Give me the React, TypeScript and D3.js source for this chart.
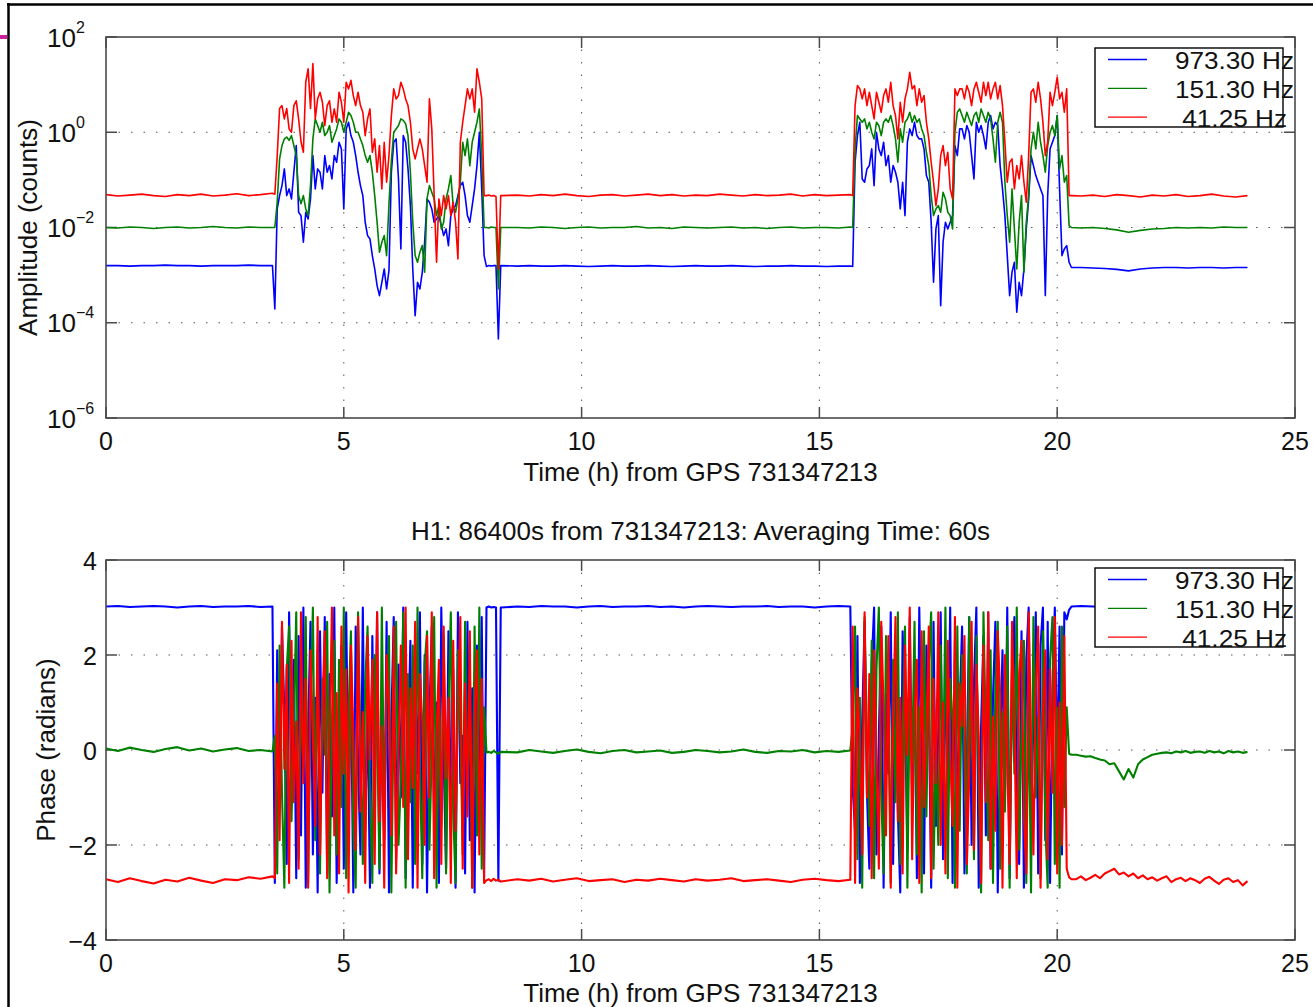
import * as d3 from 'd3';

// sampling grid of the stored values (hours from GPS 731347213)
const FLAT_STEP = 0.25;   // quiet stretches
const ACTIVE_STEP = 0.05; // lock-loss / noisy stretches
const FINE_STEP = 0.1;    // phase tail after 20.3 h
const T_PRE = 0;
const T_A = 3.55;
const T_MID = 8.65;
const T_B = 15.7;
const T_POST = 20.5;
const T_POST_FINE = 20.4;

const xTicks = [0, 5, 10, 15, 20, 25];
const ampTickExps = [2, 0, -2, -4, -6];
const phaseTicks = [4, 2, 0, -2, -4];
const legendLabels = ['973.30 Hz', '151.30 Hz', ' 41.25 Hz'];

// ---- amplitude, log10(counts) ----
const ampBluePre = [-2.80, -2.80, -2.81, -2.80, -2.80, -2.79, -2.80, -2.80, -2.81, -2.80, -2.80, -2.80, -2.79, -2.80, -2.80];
const ampBlueA = [
  -3.71, -1.61, -1.33, -1.12, -0.77, -1.33, -1.19, -1.4, -0.84, -0.28,
  -1.68, -1.75, -2.31, -1.68, -1.82, -1.4, -0.49, -1.19, -0.77, -0.84,
  -1.19, -0.49, -0.84, -0.7, -0.98, -0.49, -0.63, -0.21, -0.35, -1.61,
  0.07, 0.21, -0.07, -0.21, -0.49, -0.84, -1.12, -1.33, -1.89, -2.17,
  -2.24, -2.59, -2.87, -3.22, -3.43, -3.15, -2.87, -3.29, -2.9, -0.84,
  -0.21, -0.14, -0.98, -2.45, -0.07, -0.21, -0.77, -1.54, -2.87, -3.85,
  -3.15, -3.29, -2.94, -2.31, -1.4, -1.47, -1.61, -1.89, -1.82, -1.75,
  -1.96, -2.17, -2.03, -2.38, -1.75, -1.61, -1.54, -1.33, -1.12, -1.05,
  -1.33, -1.75, -1.89, -1.54, -1.19, -0.7, 0.0, -1.19, -2.59, -2.82,
  -2.8, -2.81, -2.8, -2.8, -4.34, -2.8,
];
const ampBlueMid = [-2.81, -2.80, -2.81, -2.81, -2.80, -2.81, -2.82, -2.81, -2.80, -2.81, -2.81, -2.80, -2.81, -2.82, -2.81, -2.80, -2.81, -2.81, -2.80, -2.81, -2.82, -2.81, -2.81, -2.80, -2.81, -2.81, -2.82, -2.81, -2.81];
const ampBlueB = [
  -2.82, -0.63, -0.07, 0.21, -0.98, -1.05, -0.77, -0.7, -0.35, -1.12,
  0.0, -0.35, -0.49, -0.21, -0.7, -0.49, -1.05, -0.7, -0.84, -1.05,
  -1.61, -1.05, -1.75, -0.21, 0.07, -0.07, 0.21, -0.07, -0.14, -0.14,
  -0.35, -0.91, -1.05, -1.89, -3.15, -2.03, -1.75, -3.64, -2.31, -1.89,
  -2.03, -1.89, -1.75, -0.28, -0.49, 0.07, 0.07, -0.14, 0.14, 0.0,
  -0.49, -0.98, 0.21, 0.0, 0.14, -0.07, -0.35, 0.21, 0.35, 0.07,
  0.21, 0.14, -0.7, -1.19, -1.75, -2.59, -3.43, -2.94, -2.73, -3.78,
  -3.15, -3.43, -2.87, -2.03, -1.4, -0.49, -0.7, -0.91, -1.05, -1.19,
  -1.33, -3.43, -1.33, -0.35, -0.21, -0.07, 0.35, -1.19, -2.59, -2.45,
  -2.38, -2.73, -2.84,
];
const ampBluePost = [-2.84, -2.85, -2.86, -2.88, -2.91, -2.87, -2.85, -2.84, -2.84, -2.85, -2.84, -2.84, -2.85, -2.84, -2.84];

const ampGreenPre = [-2.0, -2.01, -1.99, -2.0, -2.02, -2.0, -1.99, -2.01, -2.0, -1.98, -2.0, -2.01, -1.99, -2.0, -2.0];
const ampGreenA = [
  -2.0, -1.47, -0.56, -0.28, -0.14, -0.1, -0.17, -0.07, -0.28, -0.49,
  -1.33, -1.5, -1.33, -1.61, -1.75, -1.12, -0.14, 0.28, 0.14, 0.0,
  0.21, -0.07, 0.0, 0.14, -0.21, -0.07, 0.07, 0.28, 0.21, 0.0,
  0.21, 0.42, 0.35, 0.21, 0.0, 0.0, -0.14, -0.28, -0.49, -0.63,
  -0.49, -0.84, -1.33, -1.89, -2.52, -2.31, -2.17, -2.59, -1.5, -0.6,
  0.0, 0.07, 0.14, 0.28, 0.25, 0.18, -0.07, -0.84, -1.89, -2.59,
  -2.73, -2.52, -2.38, -2.94, -1.4, -1.12, -1.26, -1.4, -1.75, -1.54,
  -2.03, -1.89, -1.4, -1.19, -0.91, -1.54, -1.68, -1.4, -1.05, -0.21,
  -0.49, -0.14, -0.7, -0.21, 0.0, 0.21, 0.49, -0.49, -2.0, -2.0,
  -2.01, -1.99, -2.0, -2.0, -3.29, -2.0,
];
const ampGreenMid = [-2.0, -2.01, -1.99, -2.0, -2.02, -2.0, -1.99, -2.01, -2.0, -2.0, -1.98, -2.01, -2.0, -2.02, -1.99, -2.0, -2.01, -2.0, -1.99, -2.01, -2.0, -2.02, -2.0, -1.99, -2.01, -2.0, -2.0, -2.01, -1.99];
const ampGreenB = [
  -2.0, -0.35, 0.35, 0.28, 0.21, 0.28, 0.07, 0.21, 0.0, -0.14,
  0.21, 0.14, -0.07, 0.21, 0.28, 0.21, 0.35, 0.14, -0.14, -0.63,
  0.07, -0.21, 0.21, 0.28, 0.42, 0.21, 0.35, 0.21, 0.28, 0.07,
  -0.07, -0.42, -0.7, -1.33, -1.75, -1.61, -1.54, -1.68, -1.26, -1.4,
  -1.68, -1.75, -2.03, 0.0, 0.42, 0.49, 0.35, 0.21, 0.42, 0.28,
  0.14, 0.35, 0.42, 0.21, 0.49, 0.35, 0.21, 0.42, 0.28, -0.14,
  -0.63, 0.21, 0.42, 0.21, -1.05, -1.75, -2.31, -1.19, -2.03, -2.87,
  -1.89, -1.33, -2.94, -1.89, -1.33, -0.35, 0.0, -0.35, 0.21, -0.21,
  -0.49, -0.84, -0.28, 0.0, 0.14, -0.07, 0.35, -0.77, -0.49, -1.05,
  -0.91, -1.96, -2.0,
];
const ampGreenPost = [-2.01, -2.0, -2.02, -2.05, -2.1, -2.06, -2.03, -2.02, -2.0, -2.01, -2.0, -2.01, -1.99, -2.0, -2.0];

const ampRedPre = [-1.31, -1.34, -1.32, -1.30, -1.33, -1.35, -1.31, -1.33, -1.30, -1.34, -1.32, -1.29, -1.33, -1.31, -1.28];
const ampRedA = [
  -1.3, -0.5, 0.5, 0.56, 0.28, 0.5, 0.07, 0.0, 0.56, 0.66,
  0.28, -0.2, -0.42, 1.05, 1.33, 0.5, 1.44, 0.28, 0.7, 0.84,
  0.63, 0.14, 0.56, 0.66, 0.21, 0.49, 0.21, 0.84, 0.63, 0.21,
  1.05, 0.91, 1.09, 0.77, 0.56, 0.84, 0.56, 0.42, -0.07, 0.28,
  0.49, -0.42, -0.14, -0.84, -0.28, -1.19, -0.21, -1.05, -0.49, 0.35,
  0.91, 0.7, 0.77, 1.05, 0.91, 0.7, 0.56, 0.21, -0.35, -0.56,
  -0.35, -0.14, -0.35, -0.7, -1.05, 0.7, 0.07, -1.33, -2.73, -1.4,
  -1.75, -1.33, -1.61, -1.33, -1.75, -1.47, -1.89, -2.66, -0.21, 0.21,
  0.56, 0.91, 0.7, 0.91, 0.42, 1.33, 1.05, 0.7, -1.33, -1.33,
  -1.32, -1.34, -1.33, -1.35, -2.87, -1.33,
];
const ampRedMid = [-1.32, -1.34, -1.31, -1.33, -1.30, -1.33, -1.35, -1.32, -1.31, -1.34, -1.32, -1.30, -1.33, -1.31, -1.34, -1.32, -1.33, -1.30, -1.32, -1.34, -1.31, -1.33, -1.32, -1.30, -1.34, -1.31, -1.33, -1.32, -1.31];
const ampRedB = [
  -1.33, 0.56, 0.98, 0.91, 0.7, 0.91, 0.56, 0.84, 0.56, 0.28,
  0.84, 0.63, 0.42, 0.77, 0.91, 0.63, 1.05, 0.56, 0.35, -0.14,
  0.63, 0.21, 0.7, 0.91, 1.26, 0.91, 0.98, 0.56, 0.91, 0.63,
  0.77, 0.21, -0.14, -0.63, -1.05, -1.54, -1.19, -0.49, -0.28, -0.7,
  -0.42, -1.19, -1.4, 0.91, 0.77, 0.91, 0.91, 0.7, 0.98, 0.84,
  0.56, 0.91, 1.05, 0.84, 0.63, 1.05, 0.77, 1.05, 0.7, 0.91,
  1.05, 0.7, 0.98, 0.56, -0.21, -1.05, -0.63, -0.56, -1.19, -0.7,
  -0.98, -0.49, -1.05, -1.47, -0.49, 0.84, 0.91, 0.63, 1.05, 0.7,
  0.21, -0.49, -0.21, 0.84, 0.56, 0.84, 1.16, 0.7, 0.84, 0.42,
  0.91, -1.33, -1.33,
];
const ampRedPost = [-1.34, -1.32, -1.35, -1.31, -1.33, -1.36, -1.32, -1.34, -1.31, -1.35, -1.33, -1.30, -1.34, -1.36, -1.33];

// ---- phase, radians ----
const phBluePre = [3.02, 3.03, 3.01, 3.02, 3.03, 3.02, 3.0, 3.02, 3.03, 3.01, 3.02, 3.02, 3.03, 3.01, 3.02];
const phBlueA = [
  -2.8, 2.1, -1.2, 2.6, 0.8, -2.4, 2.9, -0.6, 1.9, -2.7,
  2.4, -1.8, 3.0, -2.9, 0.4, 2.7, -2.2, 1.1, -3.0, 2.5,
  -0.9, 2.8, -2.6, 1.6, -1.4, 3.0, -2.8, 0.2, 2.2, -2.5,
  2.9, -1.1, 1.4, -3.0, 2.6, -0.3, -2.2, 3.0, -1.7, 0.9,
  -2.9, 2.4, -0.8, 2.9, -2.6, 1.2, -1.9, 2.7, -3.0, 0.6,
  2.8, -2.3, 1.8, -1.0, 3.0, -2.7, 0.1, 2.3, -2.9, 1.5,
  -0.5, 2.9, -2.4, 2.0, -3.0, 0.7, 2.6, -1.6, 1.0, -2.8,
  3.0, -0.2, -2.5, 2.5, -1.3, 1.7, -2.9, 2.9, -0.7, 0.3,
  -2.6, 2.7, -1.9, 1.3, -3.0, 2.2, -0.4, 2.8, -2.7, 3.0,
  3.02, 3.0, 3.01, 3.0, -2.75, 3.0,
];
const phBlueMid = [3.02, 3.01, 3.03, 3.02, 3.02, 3.0, 3.02, 3.03, 3.01, 3.02, 3.02, 3.03, 3.01, 3.02, 3.0, 3.02, 3.03, 3.02, 3.01, 3.02, 3.02, 3.03, 3.01, 3.02, 3.02, 3.0, 3.02, 3.03, 3.02];
const phBlueB = [
  -0.8, -1.7, 2.4, -2.8, 0.6, 2.7, -0.9, -2.5, 1.8, 3.0,
  -2.2, 0.3, 2.6, -2.9, 1.2, -0.5, 2.9, -2.4, 2.0, -1.3,
  -3.0, 2.5, 0.8, -2.1, 2.8, -1.0, 1.5, -2.7, 3.0, -0.2,
  -2.6, 2.2, 1.0, -2.9, 2.7, -1.6, 0.4, 2.9, -2.3, 1.7,
  -0.8, 3.0, -2.8, 2.3, -1.4, 0.9, 2.6, -2.6, -0.3, 2.8,
  -2.0, 1.4, 3.0, -2.9, 0.5, 2.4, -1.8, 2.9, -2.5, 1.1,
  2.7, -3.0, 0.0, 2.1, -1.2, 3.0, -2.7, 1.6, 2.8, -0.7,
  -2.4, 2.5, -2.9, 1.9, 3.0, -1.5, 0.6, 2.9, -2.6, 2.2,
  3.0, -1.9, 2.7, -2.8, 1.3, 3.0, -0.4, 2.6, -2.2, 2.9,
  2.75, 2.95, 3.02,
];
const phBluePost = [3.03, 3.02, 3.02, 3.01, 3.03, 3.02, 3.02, 3.01, 3.02, 3.03, 3.02, 3.01, 3.02, 3.02, 3.03];

const phGreenPre = [0.03, -0.02, 0.05, 0.0, -0.04, 0.02, 0.06, -0.01, 0.03, -0.03, 0.01, 0.04, -0.02, 0.0, -0.03];
const phGreenA = [
  0.3, -2.6, 2.2, -0.9, -2.9, 1.7, 2.6, -1.5, 0.5, 2.9,
  -2.3, 1.2, -0.4, 2.8, -2.8, 0.9, 3.0, -1.9, 2.1, -2.6,
  1.5, -0.1, 2.7, -3.0, 0.6, 2.3, -2.2, 1.9, -1.2, 3.0,
  -2.7, 0.8, 2.5, -1.7, -2.9, 2.9, 0.2, -2.4, 1.4, 2.6,
  -1.0, -2.8, 2.0, 0.4, -2.5, 3.0, -1.4, 1.0, 2.4, -3.0,
  0.9, 2.7, -2.0, -0.6, 2.9, -2.9, 1.6, -1.1, 2.2, -2.4,
  3.0, -0.3, -2.7, 1.8, 2.5, -2.1, 0.0, 2.8, -2.9, 1.3,
  -1.6, 2.4, -2.6, 0.7, 2.9, -1.3, -2.8, 2.1, 0.5, -2.2,
  2.7, -0.8, 1.1, -2.9, 2.6, -1.8, 3.0, -2.5, 0.9, -0.05,
  -0.04, -0.06, -0.02, -0.05, -0.08, -0.04,
];
const phGreenMid = [-0.05, 0.0, -0.03, -0.06, -0.02, 0.01, -0.04, -0.07, -0.02, 0.0, -0.05, -0.03, -0.01, -0.06, -0.04, 0.0, -0.02, -0.05, -0.03, 0.01, -0.04, -0.06, -0.02, -0.03, 0.0, -0.05, -0.02, -0.04, -0.01];
const phGreenB = [
  0.5, 2.6, -2.3, 1.1, -2.9, 2.8, 0.2, -1.6, 2.3, -2.7,
  1.7, 3.0, -0.9, -2.6, 2.4, 0.7, -2.8, 1.9, -1.1, 2.9,
  -2.4, 0.4, 2.6, -2.9, 1.3, -0.3, 2.7, -2.2, 0.9, -3.0,
  2.5, -1.4, 1.8, 2.9, -2.5, 0.1, -2.0, 2.2, -0.6, 3.0,
  -2.7, 1.5, 0.6, -2.9, 2.6, -1.7, 2.0, -0.2, -2.6, 2.8,
  1.0, -2.3, 2.4, -0.8, -3.0, 2.9, 0.3, -1.9, 2.1, -2.8,
  1.4, 2.7, -2.5, 0.8, -1.3, 2.6, -2.9, 1.7, -0.5, 3.0,
  -2.1, 0.5, 2.3, -2.8, 1.2, -3.0, 2.8, -1.0, 0.7, -2.7,
  2.5, -1.6, -2.9, 1.9, 2.8, -2.4, 0.9, -2.9, 2.6, -1.2,
  0.9, -0.08, -0.1,
];
const phGreenPost = [
  -0.1, -0.12, -0.14, -0.13, -0.17, -0.2, -0.22,
  -0.3, -0.28, -0.45, -0.62, -0.4, -0.58, -0.3, -0.2, -0.15, -0.1,
  -0.08, -0.06, -0.05, -0.07, -0.03, -0.05, -0.02, -0.06, -0.04, -0.03,
  -0.06, -0.02, -0.05, -0.03, -0.07, -0.02, -0.05, -0.03, -0.06, -0.04,
];

const phRedPre = [-2.72, -2.78, -2.7, -2.76, -2.81, -2.73, -2.77, -2.69, -2.75, -2.8, -2.72, -2.74, -2.68, -2.71, -2.66];
const phRedA = [
  -2.7, 1.4, -1.9, 2.7, -0.4, 1.8, -2.8, 2.3, -1.1, 0.6,
  -2.5, 2.9, -0.7, 1.5, -2.9, 2.1, 0.3, -1.6, 2.8, -2.2,
  0.9, 2.5, -2.7, 0.1, 3.0, -1.8, 1.2, -2.6, 2.6, -0.5,
  1.7, -3.0, 2.2, 0.4, -2.1, 2.8, -1.3, 0.8, -2.8, 2.4,
  -0.2, 1.9, -2.4, 2.9, -1.5, 0.5, -2.9, 2.0, 1.0, -1.8,
  2.6, -2.6, 0.0, 2.2, -1.2, 3.0, -2.3, 1.3, -0.8, 2.7,
  -2.9, 1.6, 0.6, -2.0, 2.4, -1.0, 2.9, -2.7, 0.3, 1.9,
  -2.4, 2.6, -0.6, 1.1, -2.8, 2.3, -1.7, 0.9, 2.8, -2.5,
  1.4, -1.4, 2.5, -2.9, 0.7, 2.1, -2.2, 1.5, -2.8, -2.74,
  -2.72, -2.76, -2.71, -2.75, -2.73, -2.77,
];
const phRedMid = [-2.72, -2.75, -2.71, -2.77, -2.73, -2.7, -2.76, -2.74, -2.72, -2.78, -2.73, -2.75, -2.71, -2.74, -2.77, -2.72, -2.75, -2.73, -2.7, -2.76, -2.74, -2.72, -2.75, -2.78, -2.73, -2.71, -2.74, -2.76, -2.73];
const phRedB = [
  2.6, -2.8, 1.3, 0.2, -2.2, 2.9, -1.0, 1.6, -2.7, 2.1,
  -0.4, -2.5, 2.7, 0.9, -1.8, 2.4, -2.9, 0.6, 2.8, -1.5,
  1.1, -2.6, 2.2, -0.1, 3.0, -2.3, 0.8, 1.9, -2.8, 2.5,
  -1.2, 0.4, 2.6, -2.7, 1.5, -0.7, 2.9, -2.0, 1.0, -2.6,
  2.3, 0.0, -1.6, 2.8, -2.9, 1.4, 0.5, 2.4, -2.4, -0.6,
  2.7, -2.1, 1.8, 0.3, -2.8, 2.2, -1.1, 2.9, -2.5, 0.7,
  -1.7, 2.5, 1.2, -2.9, 2.0, -0.3, -2.4, 2.7, 0.6, -2.7,
  1.6, 2.3, -1.4, -2.6, 2.9, 0.2, -2.2, 1.3, 2.6, -2.9,
  0.8, 2.1, -2.3, 1.7, -0.9, 2.8, -2.6, 1.0, -2.0, 2.4,
  -2.5, -2.68, -2.72,
];
const phRedPost = [
  -2.72, -2.66, -2.74, -2.69, -2.63, -2.70, -2.6, -2.55, -2.5, -2.62,
  -2.58, -2.66, -2.6, -2.7, -2.64, -2.72, -2.68, -2.75, -2.7, -2.66,
  -2.78, -2.72, -2.69, -2.76, -2.7, -2.74, -2.8, -2.71, -2.67, -2.75,
  -2.82, -2.73, -2.7, -2.78, -2.74, -2.85, -2.76,
];

type Pt = [number, number];
const onGrid = (vals: number[], t0: number, step: number): Pt[] =>
  vals.map((v, i) => [t0 + i * step, v] as Pt);

const ampSeries = [
  [ampBluePre, ampBlueA, ampBlueMid, ampBlueB, ampBluePost],
  [ampGreenPre, ampGreenA, ampGreenMid, ampGreenB, ampGreenPost],
  [ampRedPre, ampRedA, ampRedMid, ampRedB, ampRedPost],
].map(([pre, a, mid, b, post]) =>
  [
    ...onGrid(pre, T_PRE, FLAT_STEP),
    ...onGrid(a, T_A, ACTIVE_STEP),
    ...onGrid(mid, T_MID, FLAT_STEP),
    ...onGrid(b, T_B, ACTIVE_STEP),
    ...onGrid(post, T_POST, FLAT_STEP),
  ].map(([t, e]) => [t, Math.pow(10, e)] as Pt)
);

const phSeries = [
  [...onGrid(phBluePre, T_PRE, FLAT_STEP), ...onGrid(phBlueA, T_A, ACTIVE_STEP), ...onGrid(phBlueMid, T_MID, FLAT_STEP), ...onGrid(phBlueB, T_B, ACTIVE_STEP), ...onGrid(phBluePost, T_POST, FLAT_STEP)],
  [...onGrid(phGreenPre, T_PRE, FLAT_STEP), ...onGrid(phGreenA, T_A, ACTIVE_STEP), ...onGrid(phGreenMid, T_MID, FLAT_STEP), ...onGrid(phGreenB, T_B, ACTIVE_STEP), ...onGrid(phGreenPost, T_POST_FINE, FINE_STEP)],
  [...onGrid(phRedPre, T_PRE, FLAT_STEP), ...onGrid(phRedA, T_A, ACTIVE_STEP), ...onGrid(phRedMid, T_MID, FLAT_STEP), ...onGrid(phRedB, T_B, ACTIVE_STEP), ...onGrid(phRedPost, T_POST_FINE, FINE_STEP)],
];

const COLORS = ['#0000ff', '#008000', '#ff0000'];
const FONT = '"Liberation Sans", Arial, Helvetica, sans-serif';
const AXIS = '#4a4a4a';
const TICK = 11;

const left = 106, right = 1295;
const ampTop = 37, ampBottom = 418;
const phTop = 560, phBottom = 940;

const x = d3.scaleLinear().domain([0, 25]).range([left, right]);
const yAmp = d3.scaleLog().domain([1e-6, 1e2]).range([ampBottom, ampTop]);
const yPh = d3.scaleLinear().domain([-4, 4]).range([phBottom, phTop]);

const Frame = ({ top, bottom, yPx }: { top: number; bottom: number; yPx: number[] }) => (
  <g>
    {/* dotted grid */}
    <g stroke="#555" strokeWidth={1} strokeDasharray="1.5 11">
      {xTicks.slice(1, -1).map((t) => (
        <line key={'gx' + t} x1={x(t)} x2={x(t)} y1={top} y2={bottom} />
      ))}
      {yPx.slice(1, -1).map((py) => (
        <line key={'gy' + py} x1={left} x2={right} y1={py} y2={py} />
      ))}
    </g>
    <g stroke={AXIS} strokeWidth={1.5}>
      {xTicks.map((t) => (
        <g key={'tx' + t}>
          <line x1={x(t)} x2={x(t)} y1={bottom} y2={bottom - TICK} />
          <line x1={x(t)} x2={x(t)} y1={top} y2={top + TICK} />
        </g>
      ))}
      {yPx.map((py) => (
        <g key={'ty' + py}>
          <line x1={left} x2={left + TICK} y1={py} y2={py} />
          <line x1={right} x2={right - TICK} y1={py} y2={py} />
        </g>
      ))}
    </g>
  </g>
);

const Border = ({ top, bottom }: { top: number; bottom: number }) => (
  <rect x={left} y={top} width={right - left} height={bottom - top} fill="none" stroke={AXIS} strokeWidth={1.6} />
);

const Legend = ({ top }: { top: number }) => (
  <g>
    <rect x={1095} y={top} width={188} height={79} fill="#fff" stroke="#000" strokeWidth={1.4} />
    {legendLabels.map((lab, i) => (
      <g key={lab}>
        <line x1={1108} x2={1147} y1={top + 11.5 + i * 28.8} y2={top + 11.5 + i * 28.8} stroke={COLORS[i]} strokeWidth={1.3} />
        <text x={1175} y={top + 20.5 + i * 29.2} fontSize={24} xmlSpace="preserve" fill="#111"
          textLength={i === 2 ? 112 : 119} lengthAdjust="spacingAndGlyphs">{lab}</text>
      </g>
    ))}
  </g>
);

export default function App() {
  const ampLine = d3.line<Pt>().x((d) => x(d[0])).y((d) => yAmp(d[1]));
  const phLine = d3.line<Pt>().x((d) => x(d[0])).y((d) => yPh(d[1]));
  const ampPx = ampTickExps.map((e) => yAmp(Math.pow(10, e)));
  const phPx = phaseTicks.map((v) => yPh(v));

  return (
    <svg width={1313} height={1007} style={{ position: 'absolute', left: 0, top: 0, background: '#fff' }}
      fontFamily={FONT}>
      <rect x={0} y={0} width={1313} height={1007} fill="#fff" />
      {/* page frame */}
      <line x1={8.5} x2={8.5} y1={3} y2={1007} stroke="#000" strokeWidth={2.5} />
      <line x1={7} x2={1313} y1={4.5} y2={4.5} stroke="#000" strokeWidth={2.5} />
      <rect x={0} y={35} width={7} height={4} fill="#cc1f9e" />

      {/* amplitude panel */}
      <Frame top={ampTop} bottom={ampBottom} yPx={ampPx} />
      <g fill="none" strokeWidth={1.6} strokeLinejoin="round">
        {ampSeries.map((s, i) => (
          <path key={'a' + i} d={ampLine(s) ?? ''} stroke={COLORS[i]} />
        ))}
      </g>
      <Border top={ampTop} bottom={ampBottom} />
      <Legend top={48} />
      {ampTickExps.map((e) => (
        <g key={'al' + e} fill="#111">
          <text x={47} y={yAmp(Math.pow(10, e)) + 9.5} fontSize={26}>10</text>
          <text x={76} y={yAmp(Math.pow(10, e)) - 4.5} fontSize={16}>{e < 0 ? '\u2212' + -e : String(e)}</text>
        </g>
      ))}
      {xTicks.map((t) => (
        <text key={'axl' + t} x={x(t)} y={ampBottom + 32} fontSize={25} textAnchor="middle" fill="#111">{t}</text>
      ))}
      <text x={(left + right) / 2} y={481} fontSize={26} textAnchor="middle" fill="#111">Time (h) from GPS 731347213</text>
      <text transform={`translate(37,${(ampTop + ampBottom) / 2}) rotate(-90)`} fontSize={26} textAnchor="middle" fill="#111">Amplitude (counts)</text>

      {/* phase panel */}
      <text x={(left + right) / 2} y={540} fontSize={26} textAnchor="middle" fill="#111">H1: 86400s from 731347213: Averaging Time: 60s</text>
      <Frame top={phTop} bottom={phBottom} yPx={phPx} />
      <g fill="none" strokeWidth={2.1} strokeLinejoin="round">
        {phSeries.map((s, i) => (
          <path key={'p' + i} d={phLine(s) ?? ''} stroke={COLORS[i]} />
        ))}
      </g>
      <Border top={phTop} bottom={phBottom} />
      <Legend top={568} />
      {phaseTicks.map((v) => (
        <text key={'pl' + v} x={97} y={yPh(v) + 9.5} fontSize={25} textAnchor="end" fill="#111">
          {v < 0 ? '\u2212' + -v : String(v)}
        </text>
      ))}
      {xTicks.map((t) => (
        <text key={'pxl' + t} x={x(t)} y={phBottom + 32} fontSize={25} textAnchor="middle" fill="#111">{t}</text>
      ))}
      <text x={(left + right) / 2} y={1002} fontSize={26} textAnchor="middle" fill="#111">Time (h) from GPS 731347213</text>
      <text transform={`translate(55,${(phTop + phBottom) / 2}) rotate(-90)`} fontSize={26} textAnchor="middle" fill="#111">Phase (radians)</text>
    </svg>
  );
}
